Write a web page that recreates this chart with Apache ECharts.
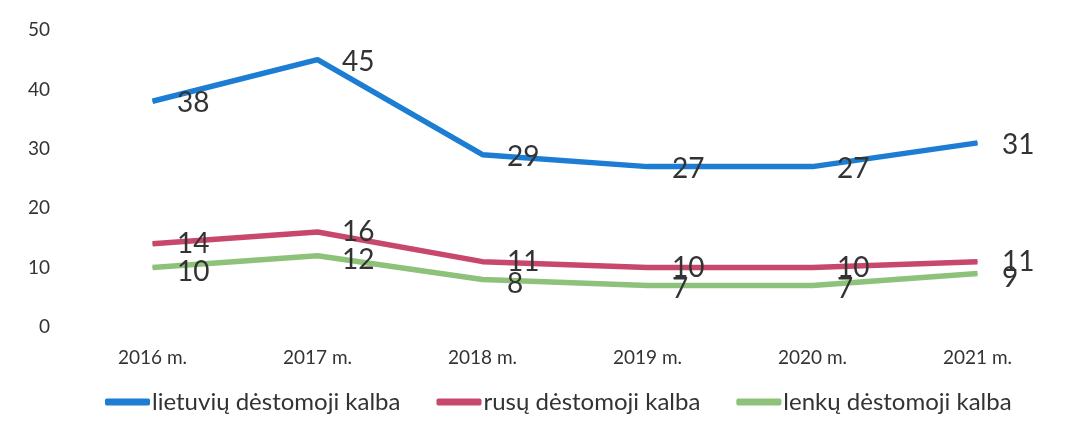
<!DOCTYPE html>
<html lang="lt">
<head>
	<meta charset="UTF-8">
	<title>Mokiniai pagal dėstomąją kalbą</title>
	<style>
		html, body { margin: 0; padding: 0; background: #fff; }
	</style>
</head>
<body>
	<div id="main" style="width: 1079px;height:421px;"></div>

<script src="https://cdn.jsdelivr.net/npm/echarts@6/dist/echarts.min.js"></script>
<script>
	var years = ['2016 m.', '2017 m.', '2018 m.', '2019 m.', '2020 m.', '2021 m.'];
	var lietuviu = [38, 45, 29, 27, 27, 31];
	var rusu = [14, 16, 11, 10, 10, 11];
	var lenku = [10, 12, 8, 7, 7, 9];

	var font = 'Lato, "Open Sans", sans-serif';
	var myChart = echarts.init(document.getElementById('main'));

	function line(name, data, color, dy) {
		return {
			name: name,
			type: 'line',
			data: data,
			symbol: 'circle',
			symbolSize: 1,
			showAllSymbol: true,
			lineStyle: { color: color, width: 5.5 },
			itemStyle: { color: color },
			label: {
				show: true,
				position: 'right',
				distance: 24,
				offset: [0, dy],
				color: '#333',
				fontFamily: font,
				fontSize: 28
			}
		};
	}

	var option = {
		animation: false,
		textStyle: { fontFamily: font },
		grid: { left: 70, right: 19, top: 30, bottom: 94 },
		legend: {
			bottom: 2,
			left: 100,
			itemWidth: 45,
			itemHeight: 7,
			itemGap: 36,
			icon: 'roundRect',
			textStyle: { fontSize: 24, color: '#333', fontFamily: font, padding: [0, 0, 0, -3] },
			data: ['lietuvių dėstomoji kalba', 'rusų dėstomoji kalba', 'lenkų dėstomoji kalba']
		},
		xAxis: {
			type: 'category',
			data: years,
			axisLine: { show: false },
			axisTick: { show: false },
			axisLabel: { fontSize: 19, color: '#333', margin: 21, fontFamily: font }
		},
		yAxis: {
			type: 'value',
			min: 0,
			max: 50,
			interval: 10,
			splitLine: { show: false },
			axisLabel: { fontSize: 19, color: '#333', margin: 20, fontFamily: font }
		},
		series: [
			line('lietuvių dėstomoji kalba', lietuviu, '#1c7dd3', 2),
			line('rusų dėstomoji kalba', rusu, '#c8486c', 0),
			line('lenkų dėstomoji kalba', lenku, '#8ec27a', 4)
		]
	};
	myChart.setOption(option);
</script>
</body>
</html>
